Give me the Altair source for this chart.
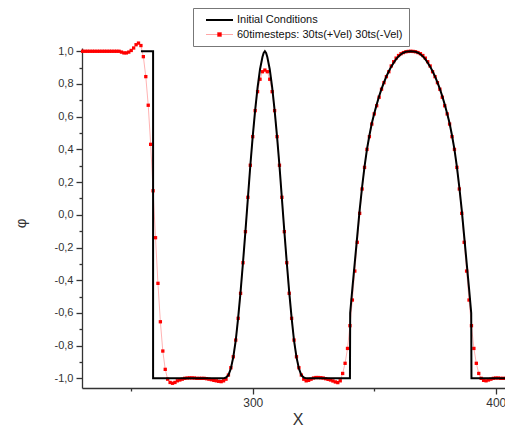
import altair as alt
import pandas as pd

FONT = "Liberation Sans"

series_names = ["Initial Conditions", "60timesteps: 30ts(+Vel) 30ts(-Vel)"]
series_colors = ["#000000", "#ff0000"]

# Initial conditions (black line)
x_init = [254, 259, 259, 288, 289, 290, 291, 292, 293, 294, 295, 296, 297, 298, 299,
          300, 301, 302, 303, 304, 304.5, 305, 305.5, 306, 307, 308, 309, 310, 311,
          312, 313, 314, 315, 316, 317, 318, 319, 320, 321, 322,
          340, 340.1, 341, 342, 343, 344, 345, 346, 347, 348, 349, 350, 351, 352,
          353, 354, 355, 356, 357, 358, 359, 360, 361, 362, 363, 364, 365, 366,
          367, 368, 369, 370, 371, 372, 373, 374, 375, 376, 377, 378, 379, 380,
          381, 382, 383, 384, 385, 386, 387, 388, 389, 389.9, 390, 407.1]
phi_init = [1.0, 1.0, -1.0, -1.0, -0.995, -0.98, -0.94, -0.87, -0.77, -0.63, -0.47, -0.29, -0.10, 0.10, 0.30,
            0.48, 0.64, 0.78, 0.89, 0.965, 0.99, 1.0, 0.99, 0.965, 0.89, 0.78, 0.64, 0.48, 0.30,
            0.10, -0.10, -0.29, -0.47, -0.63, -0.77, -0.87, -0.94, -0.98, -0.995, -1.0,
            -1.0, -0.6, -0.45, -0.29, -0.13, 0.03, 0.17, 0.295, 0.40, 0.485, 0.56, 0.62, 0.675, 0.725,
            0.77, 0.81, 0.847, 0.878, 0.906, 0.93, 0.952, 0.969, 0.982, 0.991, 0.997, 0.999, 1.0, 0.999,
            0.997, 0.991, 0.982, 0.969, 0.952, 0.93, 0.906, 0.878, 0.847, 0.81, 0.77, 0.725, 0.675, 0.62,
            0.56, 0.485, 0.40, 0.295, 0.17, 0.03, -0.13, -0.29, -0.45, -0.6, -1.0, -1.0]

# 60 timesteps result (red squares)
x_red = [230, 231, 232, 233, 234, 235, 236, 237, 238, 239,
         240, 241, 242, 243, 244, 245, 246, 247, 248, 249,
         250, 251, 252, 253, 254, 255, 256, 257, 258, 259,
         260, 261, 262, 263, 264, 265, 266, 267, 268, 269,
         270, 271, 272, 273, 274, 275, 276, 277, 278, 279,
         280, 281, 282, 283, 284, 285, 286, 287, 288, 289,
         290, 291, 292, 293, 294, 295, 296, 297, 298, 299,
         300, 301, 302, 303, 304, 305, 306, 307, 308, 309,
         310, 311, 312, 313, 314, 315, 316, 317, 318, 319,
         320, 321, 322, 323, 324, 325, 326, 327, 328, 329,
         330, 331, 332, 333, 334, 335, 336, 337, 338, 339,
         340, 341, 342, 343, 344, 345, 346, 347, 348, 349,
         350, 351, 352, 353, 354, 355, 356, 357, 358, 359,
         360, 361, 362, 363, 364, 365, 366, 367, 368, 369,
         370, 371, 372, 373, 374, 375, 376, 377, 378, 379,
         380, 381, 382, 383, 384, 385, 386, 387, 388, 389,
         390, 391, 392, 393, 394, 395, 396, 397, 398, 399,
         400, 401, 402, 403, 404, 405, 406, 407]
phi_red = [1.0, 1.0, 1.0, 1.0, 1.0, 1.0, 1.0, 1.0, 1.0, 1.0,
           1.0, 1.0, 1.0, 1.0, 1.0, 1.0, 0.995, 0.99, 0.99, 0.995,
           1.005, 1.02, 1.04, 1.05, 1.035, 0.967, 0.845, 0.67, 0.431, 0.147,
           -0.14, -0.419, -0.654, -0.833, -0.945, -1.005, -1.025, -1.03, -1.025, -1.015,
           -1.01, -1.005, -1.0, -0.998, -0.997, -0.997, -0.998, -1.0, -1.0, -1.0,
           -1.0, -1.002, -1.005, -1.008, -1.012, -1.015, -1.018, -1.02, -1.015, -1.005,
           -0.98, -0.935, -0.868, -0.766, -0.633, -0.48, -0.293, -0.103, 0.107, 0.303,
           0.478, 0.637, 0.753, 0.829, 0.875, 0.885, 0.875, 0.829, 0.753, 0.637,
           0.478, 0.303, 0.107, -0.103, -0.293, -0.48, -0.633, -0.766, -0.868, -0.935,
           -0.98, -1.005, -1.015, -1.012, -1.005, -0.998, -0.995, -0.995, -0.996, -0.998,
           -1.002, -1.006, -1.01, -1.016, -1.022, -1.026, -1.015, -0.97, -0.908, -0.817,
           -0.678, -0.521, -0.344, -0.168, 0.009, 0.158, 0.29, 0.40, 0.478, 0.555,
           0.617, 0.667, 0.719, 0.768, 0.808, 0.845, 0.875, 0.91, 0.936, 0.958,
           0.974, 0.985, 0.992, 0.997, 0.999, 1.0, 0.999, 0.997, 0.992, 0.985,
           0.974, 0.958, 0.936, 0.91, 0.875, 0.845, 0.808, 0.768, 0.719, 0.667,
           0.617, 0.555, 0.478, 0.40, 0.29, 0.158, 0.009, -0.168, -0.344, -0.521,
           -0.678, -0.817, -0.908, -0.97, -1.0, -1.012, -1.015, -1.01, -1.005, -1.0,
           -0.998, -0.998, -1.0, -1.0, -1.0, -1.0, -1.0, -1.0]

x_ticks = [250, 300, 350, 400]
y_ticks = [-1.0, -0.9, -0.8, -0.7, -0.6, -0.5, -0.4, -0.3, -0.2, -0.1, 0.0,
           0.1, 0.2, 0.3, 0.4, 0.5, 0.6, 0.7, 0.8, 0.9, 1.0]

# legend symbol styling per series
legend_shapes = ["M-2.7,0H2.7", "M-2.7,0H2.7M-0.4,-0.4H0.4V0.4H-0.4Z"]
legend_fills = ["transparent", "#ff0000"]
legend_strokes = ["#000000", "rgba(255,0,0,0.35)"]
legend_widths = [2, 1]

init_df = pd.DataFrame({"x": x_init, "phi": phi_init,
                        "order": list(range(len(x_init))),
                        "series": series_names[0]})
red_df = pd.DataFrame({"x": x_red, "phi": phi_red, "series": series_names[1]})

W, H = 423, 340
xscale = alt.Scale(domain=[229.75, 403.8], nice=False, zero=False)
yscale = alt.Scale(domain=[-1.059, 1.02], nice=False, zero=False)

xaxis = alt.Axis(
    values=x_ticks, title="X", format="d",
    labelExpr="datum.value % 100 == 0 ? datum.label : ''",
    tickSize={"condition": {"test": "datum.value % 100 == 0", "value": 6}, "value": 3},
    labelPadding=3, labelFontSize=12,
    titleX=215.7, titleY=31, titleAlign="center", titleBaseline="middle",
    titleFontSize=16, titleFontWeight="normal",
)
yaxis = alt.Axis(
    values=y_ticks, title="φ",
    labelExpr="abs(round(datum.value*10)) % 2 == 0 ? (datum.value < -0.001 ? '-' : '') + replace(format(abs(datum.value), '.1f'), '.', ',') : ''",
    tickSize={"condition": {"test": "abs(round(datum.value*10)) % 2 == 0", "value": 6}, "value": 3},
    labelPadding=3, labelFontSize=11,
    titleX=-62, titleY=175, titleAlign="center", titleBaseline="middle",
    titleFontSize=15, titleFontWeight="normal", titleAngle=270,
)

X = alt.X("x:Q", scale=xscale, axis=xaxis)
Y = alt.Y("phi:Q", scale=yscale, axis=yaxis)

black_line = alt.Chart(init_df).mark_line(color="#000000", strokeWidth=2).encode(
    x=X, y=Y, order="order:Q")

red_line = alt.Chart(red_df).mark_line(color="#ff0000", strokeWidth=1, opacity=0.3).encode(
    x=X, y=Y)

points = alt.Chart(red_df).mark_point(shape="square", filled=True, size=11, opacity=1,
                                      color="#ff0000").encode(x=X, y=Y)

legend = alt.Legend(
    title=None, orient="none", legendX=111, legendY=-40, direction="vertical",
    padding=6, rowPadding=3, strokeColor="#777777", fillColor="#ffffff",
    symbolSize=100, symbolOffset=14.5, labelOffset=11.5, symbolOpacity=1,
    labelFont=FONT, labelFontSize=11, labelColor="#111111", labelLimit=400,
)

legend_layer = alt.Chart(red_df).mark_point(opacity=0).encode(
    x=X, y=Y,
    shape=alt.Shape("series:N", scale=alt.Scale(domain=series_names, range=legend_shapes), legend=legend),
    fill=alt.Fill("series:N", scale=alt.Scale(domain=series_names, range=legend_fills), legend=legend),
    stroke=alt.Stroke("series:N", scale=alt.Scale(domain=series_names, range=legend_strokes), legend=legend),
    strokeWidth=alt.StrokeWidth("series:N", scale=alt.Scale(domain=series_names, range=legend_widths), legend=legend),
)

chart = alt.layer(red_line, points, black_line, legend_layer).properties(
    width=W, height=H,
    autosize=alt.AutoSizeParams(type="none"),
    padding={"left": 74, "top": 40, "right": 0, "bottom": 38},
).configure_view(stroke=None).configure_axis(
    labelFont=FONT, titleFont=FONT, labelColor="#333333", titleColor="#333333",
    domainColor="#333333", tickColor="#333333", domainWidth=1.3, tickWidth=1.3, grid=False,
)

chart.save("out.html", embed_options={"renderer": "svg", "actions": False})
